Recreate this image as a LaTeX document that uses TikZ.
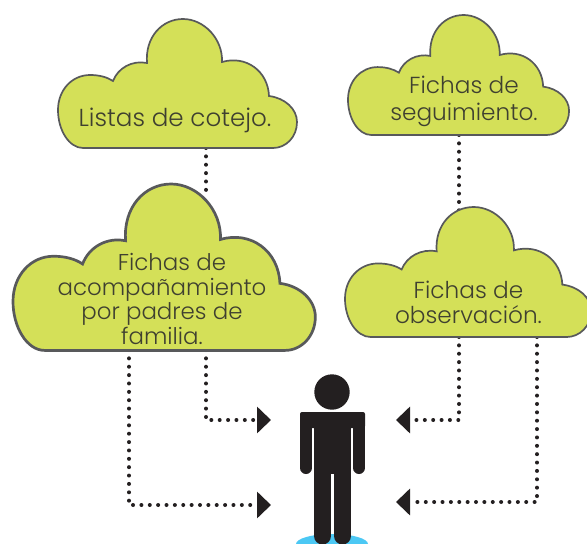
\documentclass[tikz,border=0pt]{standalone}
\usepackage{fontspec}
\setmainfont{Poppins Light}
\usetikzlibrary{arrows.meta}

\definecolor{cloudfill}{HTML}{D4E058}
\definecolor{cloudline}{HTML}{58595B}
\definecolor{cloudtext}{HTML}{3F4030}
\definecolor{figureblack}{HTML}{231F20}
\definecolor{floorblue}{HTML}{4CC8F4}

% cloud outline, drawn in a 239 x 129 box
\newcommand\cloudoutline{(25,129) .. controls (11,129) and (0,111) .. (0,91)
  .. controls (0,71) and (14,56) .. (32,56)
  .. controls (41,56) and (49,58) .. (55,62)
  .. controls (60,49) and (74,41) .. (89,44)
  .. controls (87,18) and (104,0) .. (125,0)
  .. controls (146,0) and (165,20) .. (164,43)
  .. controls (188,36) and (210,52) .. (211,77)
  .. controls (227,79) and (239,90) .. (239,103)
  .. controls (239,118) and (228,129) .. (215,129) -- cycle}

\begin{document}
\begin{tikzpicture}[x=1pt,y=-1pt,
    cloudshape/.style={draw=cloudline,fill=cloudfill,line width=1.7pt},
    cloudlabel/.style={text=cloudtext,align=center,inner sep=0pt,
      font=\fontsize{23.2}{#1}\selectfont},
    dotline/.style={figureblack,line width=4pt,line cap=round,
      dash pattern=on 0pt off 8.37pt},
    dotarrow/.style={dotline,-{Triangle[length=14pt,width=26pt]}},
    limb/.style={figureblack,line cap=round}]

  \useasboundingbox (0,0) rectangle (587,544);
  \clip (0,0) rectangle (587,544);

  % free ends of the dotted lines
  \coordinate (listasfoot) at (206,148);
  \coordinate (acompfoot) at (206,350);
  \coordinate (acomphip) at (129,350);
  \coordinate (seguifoot) at (459,135);
  \coordinate (obserfoot) at (459,337);
  \coordinate (obserhip) at (537,337);
  \coordinate (acomptop) at (206,197);
  \coordinate (obsertop) at (459,212);
  \coordinate (tipleftup) at (271,420);
  \coordinate (tipleftlow) at (271,505);
  \coordinate (tiprightup) at (396,420);
  \coordinate (tiprightlow) at (396,502);

  %% dotted lines go under the clouds
  \draw[dotline] (listasfoot) -- (acomptop);
  \draw[dotline] (seguifoot) -- (obsertop);
  \draw[dotarrow] (acompfoot) |- (tipleftup);
  \draw[dotarrow] (acomphip) |- (tipleftlow);
  \draw[dotarrow] (obserfoot) |- (tiprightup);
  \draw[dotarrow] (obserhip) |- (tiprightlow);

  %% clouds
  \begin{scope}[shift={(58,19)}]
    \draw[cloudshape] \cloudoutline;
  \end{scope}
  \begin{scope}[shift={(348,15)},xscale=.925,yscale=.93]
    \draw[cloudshape] \cloudoutline;
  \end{scope}
  \begin{scope}[shift={(13,184)},xscale=1.265,yscale=1.29]
    \draw[cloudshape,line width=2.7pt] \cloudoutline;
  \end{scope}
  \begin{scope}[shift={(345,207)},xscale=1.03,yscale=1.008]
    \draw[cloudshape] \cloudoutline;
  \end{scope}

  \node[cloudlabel=25,font=\fontsize{24.6}{25}\selectfont] (listas) at (175,120) {Listas de cotejo.};
  \node[cloudlabel=26.5] (segui) at (464,101.5) {Fichas de\\seguimiento.};
  \node[cloudlabel=25] (obser) at (468.5,302) {Fichas de\\observación.};
  \node[cloudlabel=24.7,font=\fontsize{22.9}{24.7}\selectfont] (acomp) at (162,299) {\hspace*{20pt}Fichas de\\acompañamiento\\por padres de\\familia.};

  %% figure standing on the blue floor spot
  \fill[floorblue] (332,544) ellipse (36 and 10);
  \fill[figureblack] (332,392) circle (17.7);
  \fill[figureblack,rounded corners=2pt] (300,412) rectangle (365,428);
  \fill[figureblack] (314,420) rectangle (351,474);
  \draw[limb,line width=12pt] (306,420) -- (306,468);
  \draw[limb,line width=12pt] (359,420) -- (359,468);
  \draw[limb,line width=17pt] (322.5,460) -- (322.5,536);
  \draw[limb,line width=17pt] (342.5,460) -- (342.5,536);

\end{tikzpicture}
\end{document}
